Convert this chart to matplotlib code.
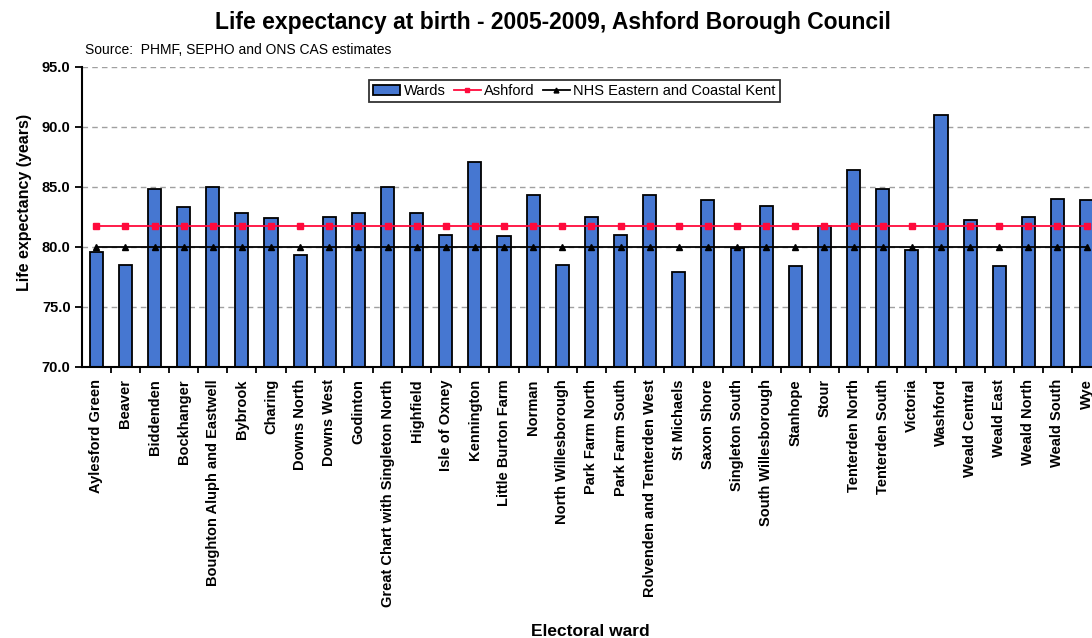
import numpy as np
import matplotlib
matplotlib.use("Agg")
import matplotlib.pyplot as plt
from matplotlib.patches import Patch
from matplotlib.lines import Line2D

# ----- DATA -----
wards = [
    "Aylesford Green", "Beaver", "Biddenden", "Bockhanger",
    "Boughton Aluph and Eastwell", "Bybrook", "Charing", "Downs North",
    "Downs West", "Godinton", "Great Chart with Singleton North", "Highfield",
    "Isle of Oxney", "Kennington", "Little Burton Farm", "Norman",
    "North Willesborough", "Park Farm North", "Park Farm South",
    "Rolvenden and Tenterden West", "St Michaels", "Saxon Shore",
    "Singleton South", "South Willesborough", "Stanhope", "Stour",
    "Tenterden North", "Tenterden South", "Victoria", "Washford",
    "Weald Central", "Weald East", "Weald North", "Weald South", "Wye",
]
ward_values = [
    79.6, 78.5, 84.8, 83.3, 85.0, 82.8, 82.4, 79.3, 82.5, 82.8,
    85.0, 82.8, 81.0, 87.1, 80.9, 84.3, 78.5, 82.5, 81.0, 84.3,
    77.9, 83.9, 79.9, 83.4, 78.4, 81.7, 86.4, 84.8, 79.7, 91.0,
    82.2, 78.4, 82.5, 84.0, 83.9,
]
ashford_value = 81.7
nhs_value = 80.0
y_ticks = [70.0, 75.0, 80.0, 85.0, 90.0, 95.0]
# -----------------

plt.rcParams['font.family'] = ['Liberation Sans', 'DejaVu Sans']

BAR_COLOR = "#4677d1"
RED = "#ff0a3c"

fig = plt.figure(figsize=(10.92, 6.38), dpi=100)
# axes runs past the right edge, like the cropped original
ax = fig.add_axes([0.0748, 0.4252, 0.9336, 0.4702])
ax_w = 1019.5  # axes width in px

x = np.arange(len(wards))
ashford = [ashford_value] * len(wards)
nhs = [nhs_value] * len(wards)

ax.bar(x, np.array(ward_values) - 70, bottom=70, width=0.45,
       color=BAR_COLOR, edgecolor="black", linewidth=1.3, zorder=2)
ax.plot(x, ashford, color=RED, linewidth=1.3, marker="s", markersize=4.5,
        zorder=3)
ax.plot(x, nhs, color="black", linewidth=1.3, marker="^", markersize=4,
        zorder=3)

ax.set_xlim(-0.5, len(wards) - 0.5)
ax.set_ylim(70, 95)
ax.set_yticks(y_ticks)
ax.set_yticklabels([f"{v:.1f}" for v in y_ticks], fontsize=10.5, fontweight="bold")
for v in y_ticks[1:]:
    ax.axhline(v, color="#a0a0a0", linestyle=(0, (4, 3)), linewidth=1.0, zorder=1)

ax.set_xticks(x)
ax.set_xticklabels(wards, rotation=90, fontsize=10.5, fontweight="bold", va="top")
ax.set_xticks(x[:-1] + 0.5, minor=True)
ax.tick_params(axis="x", which="major", length=0, pad=9)
ax.tick_params(axis="x", which="minor", length=4, width=1.3, direction="out")
ax.tick_params(axis="y", length=5, width=1.3, direction="out", pad=3)

for side in ("top", "right"):
    ax.spines[side].set_visible(False)
for side in ("left", "bottom"):
    ax.spines[side].set_linewidth(1.5)

ax.set_ylabel("Life expectancy (years)", fontsize=11.5, fontweight="bold")
ax.yaxis.set_label_coords((32 - 81.7) / ax_w, 0.547)
ax.set_xlabel("Electoral ward", fontsize=12.5, fontweight="bold")
ax.xaxis.label.set_va("center")
ax.xaxis.set_label_coords((590 - 81.7) / ax_w, -0.883)

handles = [
    Patch(facecolor=BAR_COLOR, edgecolor="black", linewidth=1.3),
    Line2D([], [], color=RED, linewidth=1.3, marker="s", markersize=3.5),
    Line2D([], [], color="black", linewidth=1.3, marker="^", markersize=3.5),
]
leg = ax.legend(handles, ["Wards", "Ashford", "NHS Eastern and Coastal Kent"],
                loc="center", bbox_to_anchor=((574.5 - 81.7) / ax_w, 0.919), ncol=3,
                fontsize=10.5, frameon=True, fancybox=False, handlelength=1.85,
                handletextpad=0.25, columnspacing=0.55, borderpad=0.3)
leg.get_frame().set_edgecolor("black")
leg.get_frame().set_linewidth(1.3)

fig.text(0.506, 1 - 22 / 638, "Life expectancy at birth - 2005-2009, Ashford Borough Council",
         ha="center", va="center", fontsize=16.5, fontweight="bold")
fig.text(85 / 1092, 1 - 50 / 638, "Source:  PHMF, SEPHO and ONS CAS estimates",
         ha="left", va="center", fontsize=10)

fig.savefig("out.png", dpi=100)
